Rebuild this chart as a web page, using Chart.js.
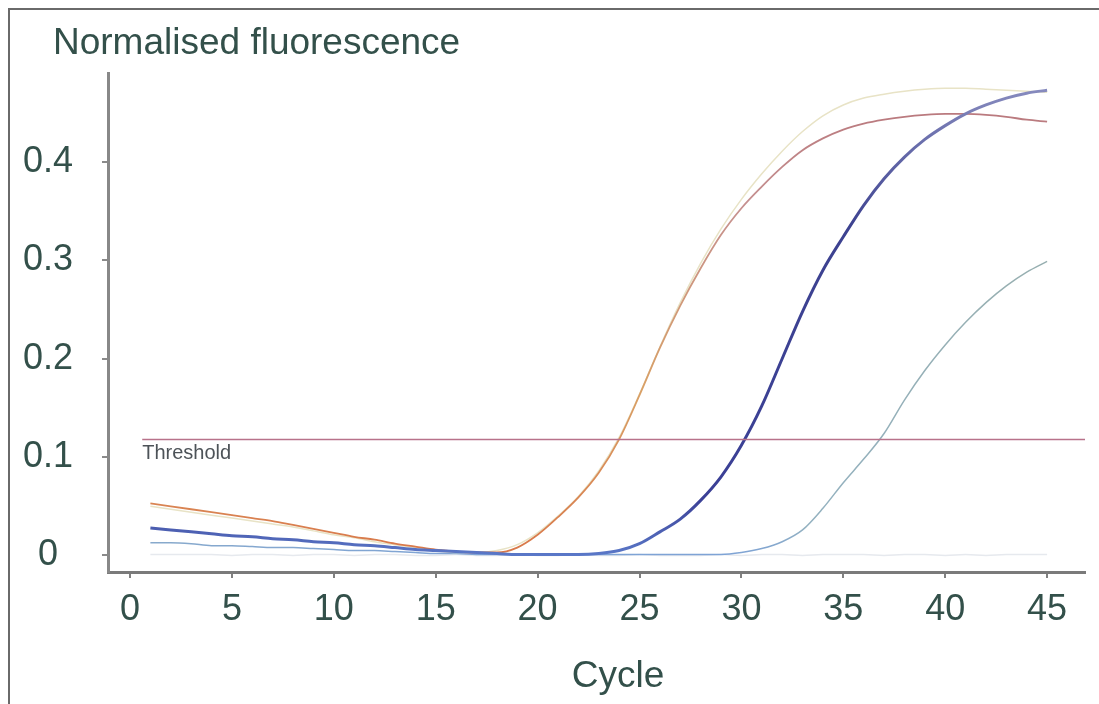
<!DOCTYPE html>
<html>
<head>
<meta charset="utf-8">
<script src="https://cdn.jsdelivr.net/npm/chart.js@4"></script>
<style>
  html, body { margin: 0; padding: 0; background: #fff; }
  #wrap { position: relative; width: 1099px; height: 704px; overflow: hidden; }
  /* scanned figure frame: only top and left edges are visible */
  #frame {
    position: absolute; left: 8px; top: 8px; width: 1200px; height: 800px;
    border-top: 2px solid #6a6a6a; border-left: 2px solid #6a6a6a;
  }
  #chart { position: absolute; left: 0; top: 0; }
</style>
</head>
<body>
<div id="wrap">
  <div id="frame"></div>
  <canvas id="chart" width="1099" height="704"></canvas>
</div>
<script>
// ---- data ----
const cycles = [1, 2, 3, 4, 5, 6, 7, 8, 9, 10, 11, 12, 13, 14, 15, 16, 17, 18, 19, 20,
  21, 22, 23, 24, 25, 26, 27, 28, 29, 30, 31, 32, 33, 34, 35, 36, 37, 38, 39, 40,
  41, 42, 43, 44, 45];

// early sample, orange / mauve trace
const sampleA = [0.053, 0.050, 0.047, 0.044, 0.041, 0.038, 0.035, 0.031, 0.027, 0.023,
  0.019, 0.016, 0.012, 0.009, 0.006, 0.004, 0.003, 0.003, 0.008, 0.021,
  0.039, 0.059, 0.084, 0.118, 0.163, 0.211, 0.254, 0.292, 0.326, 0.353,
  0.375, 0.395, 0.412, 0.424, 0.433, 0.439, 0.443, 0.446, 0.448, 0.449,
  0.449, 0.448, 0.446, 0.443, 0.441];

// early sample, pale yellow trace
const sampleB = [0.050, 0.047, 0.044, 0.041, 0.038, 0.035, 0.032, 0.029, 0.025, 0.021,
  0.018, 0.014, 0.011, 0.008, 0.005, 0.003, 0.003, 0.005, 0.011, 0.023,
  0.040, 0.060, 0.086, 0.120, 0.164, 0.212, 0.257, 0.297, 0.332, 0.362,
  0.388, 0.411, 0.431, 0.447, 0.458, 0.465, 0.469, 0.472, 0.474, 0.475,
  0.475, 0.474, 0.473, 0.472, 0.471];

// mid sample, dark blue trace
const sampleC = [0.028, 0.026, 0.024, 0.022, 0.020, 0.019, 0.017, 0.016, 0.014, 0.013,
  0.011, 0.010, 0.008, 0.006, 0.005, 0.004, 0.003, 0.002, 0.001, 0.001,
  0.001, 0.001, 0.002, 0.005, 0.012, 0.024, 0.037, 0.056, 0.080, 0.112,
  0.152, 0.200, 0.248, 0.290, 0.324, 0.356, 0.383, 0.405, 0.423, 0.437,
  0.449, 0.458, 0.465, 0.470, 0.473];

// late sample, grey-teal trace
const sampleD = [0.013, 0.013, 0.012, 0.010, 0.010, 0.009, 0.008, 0.008, 0.007, 0.006,
  0.005, 0.005, 0.004, 0.003, 0.002, 0.002, 0.001, 0.001, 0.001, 0.001,
  0.001, 0.001, 0.001, 0.001, 0.001, 0.001, 0.001, 0.001, 0.001, 0.003,
  0.007, 0.014, 0.026, 0.048, 0.074, 0.098, 0.124, 0.158, 0.188, 0.214,
  0.237, 0.257, 0.274, 0.288, 0.299];

// no-template control, stays flat
const control = [0.001, 0.001, 0.001, 0.001, 0.000, 0.001, 0.001, 0.000, 0.001, 0.001,
  0.000, 0.001, 0.001, 0.000, 0.000, 0.001, 0.000, 0.000, 0.001, 0.000,
  0.000, 0.001, 0.000, 0.000, 0.001, 0.000, 0.000, 0.000, 0.001, 0.000,
  0.001, 0.001, 0.000, 0.001, 0.001, 0.001, 0.000, 0.001, 0.001, 0.000,
  0.001, 0.000, 0.001, 0.001, 0.001];

const thresholdValue = 0.118;
const thresholdSpan = [0.6, 46.9];

const xTicks = [0, 5, 10, 15, 20, 25, 30, 35, 40, 45];
const yTicks = [0, 0.1, 0.2, 0.3, 0.4];

// ---- styling helpers ----
const FONT = "'Liberation Sans', Arial, Helvetica, sans-serif";
const TEXT = "#33504a";

const toPoints = (arr) => cycles.map((c, i) => ({ x: c, y: arr[i] }));

// vertical colour fade along the curve (scan shows colour shifting with height)
function vGrad(stops, fallback) {
  return (ctx) => {
    const chart = ctx.chart;
    if (!chart.chartArea) return fallback;
    const y = chart.scales.y;
    const g = chart.ctx.createLinearGradient(0, y.getPixelForValue(0), 0, y.getPixelForValue(0.48));
    stops.forEach(([p, c]) => g.addColorStop(p, c));
    return g;
  };
}

const curve = (arr, color, width) => ({
  data: toPoints(arr),
  borderColor: color,
  borderWidth: width,
  pointRadius: 0,
  cubicInterpolationMode: "monotone",
  fill: false,
});

// axis captions + threshold label (the y caption sits flat above the axis)
const annotations = {
  id: "annotations",
  afterDatasetsDraw(chart) {
    const { ctx, scales } = chart;
    ctx.save();
    ctx.fillStyle = "#4d5358";
    ctx.font = "20px " + FONT;
    ctx.textAlign = "left";
    ctx.textBaseline = "middle";
    ctx.fillText("Threshold", scales.x.getPixelForValue(thresholdSpan[0]), scales.y.getPixelForValue(thresholdValue) + 14);

    ctx.fillStyle = TEXT;
    ctx.font = "37px " + FONT;
    ctx.fillText("Normalised fluorescence", 53, 44);
    ctx.textAlign = "center";
    ctx.fillText("Cycle", 618, 677);
    ctx.restore();
  },
};

new Chart(document.getElementById("chart"), {
  type: "line",
  data: {
    datasets: [
      {
        data: thresholdSpan.map((x) => ({ x, y: thresholdValue })),
        borderColor: "#b8728a",
        borderWidth: 1.5,
        pointRadius: 0,
      },
      curve(sampleC, vGrad([[0, "#5a78c8"], [0.12, "#3b4096"], [0.7, "#3d4290"], [1, "#8a8ec0"]], "#3b4096"), 3),
      curve(sampleA, vGrad([[0, "#d9784a"], [0.35, "#d9a066"], [0.75, "#c59090"], [1, "#b67278"]], "#d98a5a"), 1.8),
      curve(sampleB, "#e8e3c6", 1.5),
      curve(sampleD, vGrad([[0, "#7ea3d6"], [0.06, "#93b1c0"], [1, "#9aaea6"]], "#9aaea6"), 1.5),
      curve(control, "#e6e9ee", 1.5),
    ],
  },
  options: {
    responsive: false,
    animation: false,
    devicePixelRatio: 1,
    layout: { padding: { left: 0, right: 14, top: 73, bottom: 0 } },
    plugins: {
      legend: { display: false },
      tooltip: { enabled: false },
      title: { display: false },
    },
    scales: {
      x: {
        type: "linear",
        min: -1.08,
        max: 46.86,
        afterBuildTicks: (s) => { s.ticks = xTicks.map((v) => ({ value: v })); },
        afterFit: (s) => { s.height = 132; },
        grid: { drawOnChartArea: false, drawTicks: true, tickLength: 6, color: "#808080", lineWidth: 2 },
        border: { display: true, color: "#7a7a7a", width: 3 },
        ticks: {
          color: TEXT,
          padding: 10,
          autoSkip: false,
          maxRotation: 0,
          font: { family: FONT, size: 36 },
          callback: (v) => String(v),
        },
      },
      y: {
        min: -0.0168,
        max: 0.4905,
        afterBuildTicks: (s) => { s.ticks = yTicks.map((v) => ({ value: v })); },
        afterFit: (s) => { s.width = 108; },
        grid: { drawOnChartArea: false, drawTicks: true, tickLength: 6, color: "#8a8a8a", lineWidth: 2 },
        border: { display: true, color: "#888888", width: 3 },
        ticks: {
          color: TEXT,
          padding: 29,
          crossAlign: "center",
          font: { family: FONT, size: 36 },
          callback: (v) => (v === 0 ? "0" : v.toFixed(1)),
        },
      },
    },
  },
  plugins: [annotations],
});
</script>
</body>
</html>
